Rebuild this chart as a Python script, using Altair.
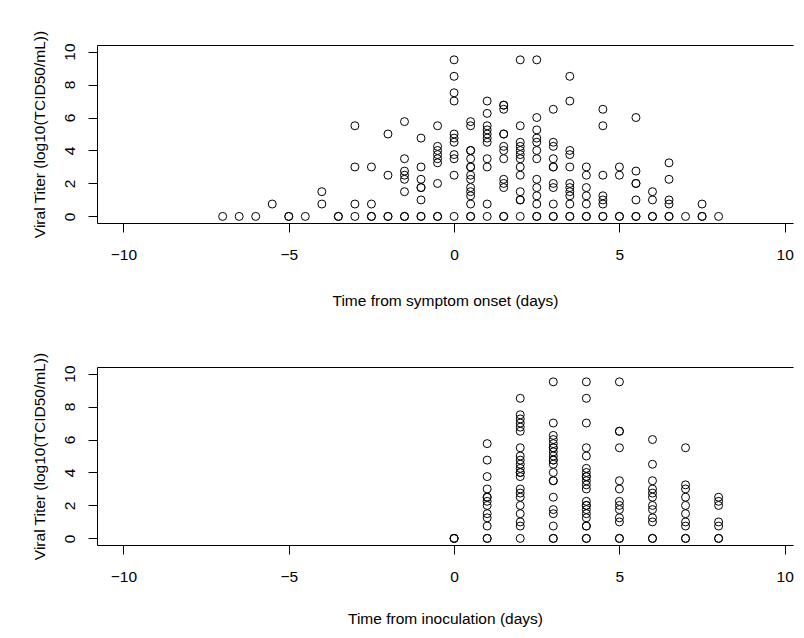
import altair as alt
import pandas as pd

# ---- Panel 1: time from symptom onset ----
onset_days = [-7.0, -6.5, -6.0, -5.5, -5.0, -4.5, -4.0, -3.5, -3.0, -2.5, -2.0, -1.5,
              -1.0, -0.5, 0.0, 0.5, 1.0, 1.5, 2.0, 2.5, 3.0, 3.5, 4.0, 4.5, 5.0, 5.5,
              6.0, 6.5, 7.0, 7.5, 8.0]
onset_titers = [
    [0], [0], [0], [0.75], [0, 0], [0], [1.5, 0.75], [0, 0],
    [5.5, 3.0, 0.75, 0],
    [3.0, 0.75, 0, 0],
    [5.0, 2.5, 0, 0],
    [5.75, 3.5, 2.75, 2.5, 2.25, 1.5, 0, 0],
    [4.75, 3.0, 2.25, 1.75, 1.75, 1.0, 0, 0],
    [5.5, 4.25, 4.0, 3.75, 3.5, 3.25, 2.0, 0, 0],
    [9.5, 8.5, 7.5, 7.0, 5.0, 4.75, 4.5, 3.75, 3.5, 2.5, 0],
    [5.75, 5.5, 4.0, 4.0, 3.5, 3.0, 3.0, 2.5, 2.25, 1.75, 1.5, 1.25, 0.75, 0, 0],
    [7.0, 6.25, 5.5, 5.25, 5.0, 4.75, 4.5, 3.5, 3.0, 0.75, 0],
    [6.75, 6.75, 6.5, 5.0, 5.0, 4.25, 4.0, 3.5, 2.25, 2.0, 1.75, 0, 0],
    [9.5, 5.5, 4.5, 4.25, 4.0, 3.75, 3.5, 3.0, 2.5, 1.5, 1.0, 1.0, 0],
    [9.5, 6.0, 5.25, 4.75, 4.5, 4.0, 3.5, 2.25, 1.75, 1.25, 0.75, 0, 0],
    [6.5, 4.5, 4.25, 3.5, 3.0, 3.0, 2.0, 1.75, 0.75, 0, 0],
    [8.5, 7.0, 4.0, 3.75, 3.0, 2.0, 1.75, 1.5, 1.25, 0.75, 0, 0],
    [3.0, 2.5, 1.75, 1.25, 0.75, 0, 0],
    [6.5, 5.5, 2.5, 1.25, 1.0, 0.75, 0, 0],
    [3.0, 2.5, 0, 0],
    [6.0, 2.75, 2.0, 2.0, 1.0, 0, 0],
    [1.5, 1.0, 0, 0],
    [3.25, 2.25, 1.0, 0.75, 0, 0],
    [0],
    [0.75, 0, 0],
    [0],
]

# ---- Panel 2: time from inoculation ----
inoc_days = [0, 1, 2, 3, 4, 5, 6, 7, 8]
inoc_titers = [
    [0, 0, 0],
    [5.75, 4.75, 3.75, 3.0, 2.5, 2.5, 2.25, 2.0, 1.5, 1.25, 0.75, 0, 0],
    [8.5, 7.5, 7.25, 7.0, 6.75, 6.5, 5.5, 5.0, 4.75, 4.5, 4.25, 4.0, 4.0, 3.75,
     3.0, 2.75, 2.5, 2.0, 1.5, 1.0, 0.75, 0],
    [9.5, 7.0, 6.25, 6.0, 5.75, 5.5, 5.5, 5.25, 5.0, 4.75, 4.75, 4.5, 4.0, 3.5,
     3.5, 2.5, 1.75, 1.5, 0.75, 0, 0],
    [9.5, 8.5, 7.0, 5.5, 5.0, 4.25, 4.0, 3.75, 3.75, 3.5, 3.25, 3.0, 2.25, 2.0,
     2.0, 1.75, 1.5, 1.25, 0.75, 0.75, 0, 0],
    [9.5, 6.5, 6.5, 5.5, 3.5, 3.0, 2.25, 2.0, 1.75, 1.25, 1.0, 0, 0],
    [6.0, 4.5, 3.5, 3.0, 2.75, 2.5, 2.0, 1.75, 1.25, 1.0, 0, 0],
    [5.5, 3.25, 3.0, 2.5, 2.0, 1.5, 1.0, 0.75, 0, 0],
    [2.5, 2.25, 2.0, 1.0, 0.75, 0, 0],
]

x_ticks = [-10, -5, 0, 5, 10]
y_ticks = [0, 2, 4, 6, 8, 10]
y_title = "Viral Titer (log10(TCID50/mL))"
x_title_top = "Time from symptom onset (days)"
x_title_bottom = "Time from inoculation (days)"


def to_frame(days, titers):
    rows = []
    for d, vals in zip(days, titers):
        for v in vals:
            rows.append({"time": d, "titer": v})
    return pd.DataFrame(rows)


FONT = "Liberation Sans"
FS = 15.5
W, H = 696, 178
xscale = alt.Scale(domain=[-10.8, 10.25], nice=False, zero=False)
yscale = alt.Scale(domain=[-0.4, 10.4], nice=False, zero=False)


def panel(df, xtitle, x_title_pad):
    common = dict(grid=False, tickSize=9, domainColor="black", tickColor="black",
                  labelColor="black", titleColor="black", labelFont=FONT, titleFont=FONT,
                  labelFontSize=FS, titleFontSize=FS, titleFontWeight="normal",
                  labelFlush=False, domainWidth=1, tickWidth=1)
    pts = alt.Chart(df).mark_point(
        shape="circle", filled=False, color="black", size=64, strokeWidth=1, opacity=1
    ).encode(
        x=alt.X("time:Q", scale=xscale, title=xtitle,
                axis=alt.Axis(values=x_ticks, labelPadding=15, titlePadding=x_title_pad,
                              format="d",
                              labelExpr="replace(datum.label, '-', '\u2212')", **common)),
        y=alt.Y("titer:Q", scale=yscale, title=y_title,
                axis=alt.Axis(values=y_ticks, labelAngle=-90, labelAlign="center",
                              labelBaseline="bottom", labelPadding=11, titlePadding=15,
                              **common)),
    )
    border = alt.Chart(df).mark_point(opacity=0).encode(
        x=alt.X("time:Q", scale=xscale,
                axis=alt.Axis(orient="top", labels=False, ticks=False, title=None,
                              grid=False, domainColor="black", domainWidth=1)),
        y=alt.Y("titer:Q", scale=yscale, axis=None),
    )
    return alt.layer(pts, border).resolve_axis(x="independent", y="independent").properties(
        width=W, height=H)


top = panel(to_frame(onset_days, onset_titers), x_title_top, 31)
bottom = panel(to_frame(inoc_days, inoc_titers), x_title_bottom, 27)

chart = alt.vconcat(top, bottom, spacing=43).properties(
    padding={"left": 24, "top": 22, "right": 0, "bottom": 0},
    background="white",
).configure_view(stroke=None)

chart.save("out.html", embed_options={"renderer": "svg", "actions": False})
